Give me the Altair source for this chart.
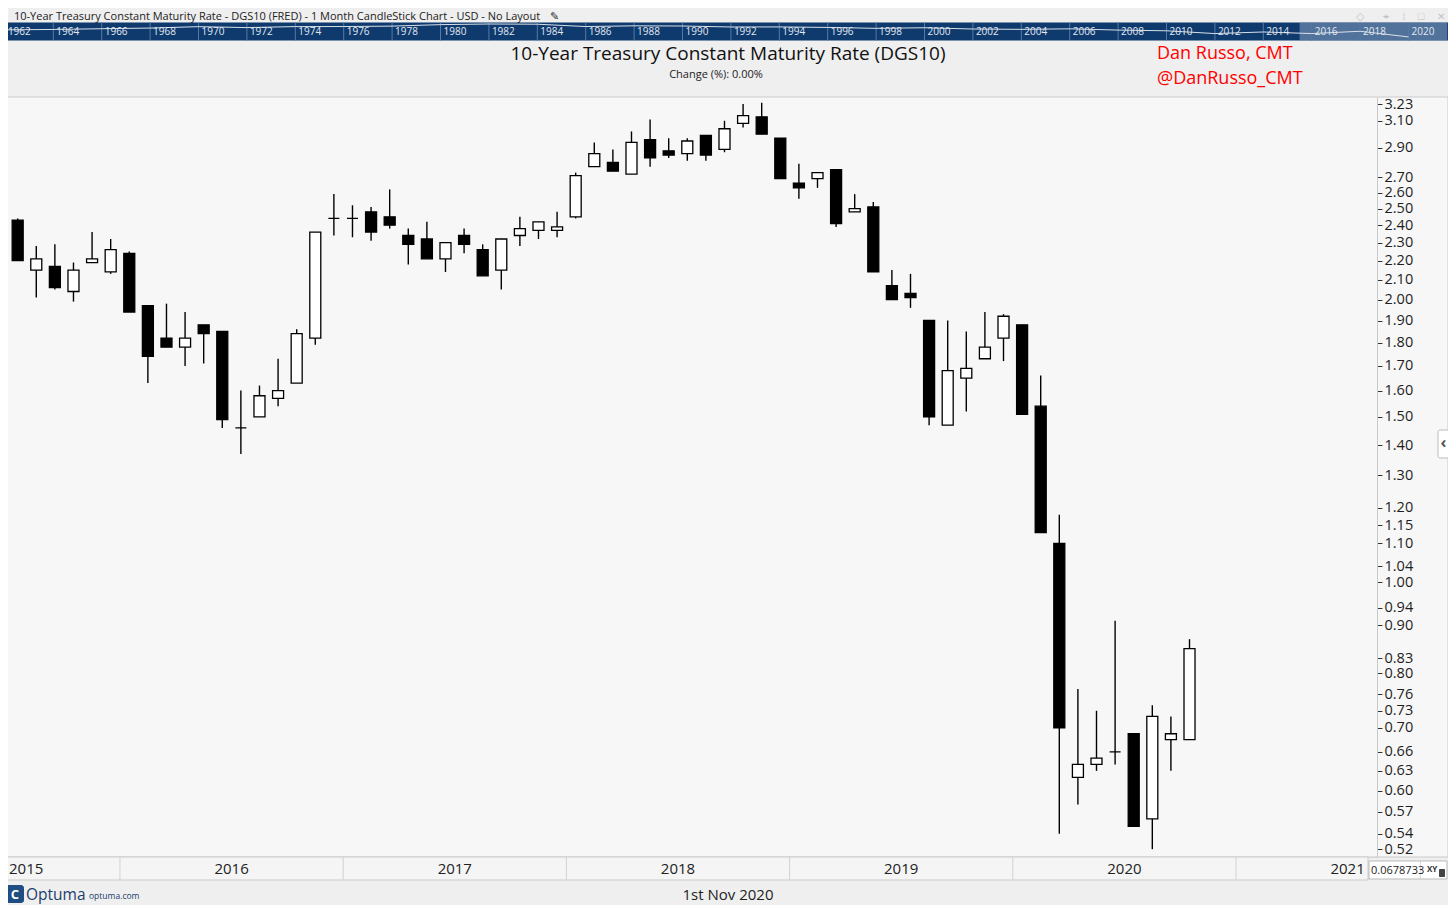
import altair as alt
import pandas as pd

# ---------------- data ----------------
months = [f"{y}-{m:02d}" for y in range(2015, 2021) for m in range(1, 13)
          if (y, m) >= (2015, 7) and (y, m) <= (2020, 10)]

opens = [2.43, 2.15, 2.17, 2.04, 2.19, 2.14,
         2.24, 1.97, 1.82, 1.78, 1.88, 1.85,
         1.46, 1.50, 1.57, 1.63, 1.82, 2.44,
         2.44, 2.48, 2.45, 2.34, 2.32, 2.21,
         2.34, 2.26, 2.15, 2.34, 2.37, 2.37,
         2.45, 2.77, 2.80, 2.72, 2.96, 2.88,
         2.86, 2.99, 2.89, 3.08, 3.13, 2.97,
         2.66, 2.69, 2.75, 2.48, 2.51, 2.07,
         2.03, 1.90, 1.47, 1.65, 1.73, 1.82,
         1.88, 1.54, 1.10, 0.62, 0.64, 0.66,
         0.69, 0.56, 0.68, 0.68]
closes = [2.20, 2.21, 2.06, 2.15, 2.21, 2.26,
          1.94, 1.74, 1.78, 1.82, 1.84, 1.49,
          1.46, 1.58, 1.60, 1.84, 2.36, 2.44,
          2.44, 2.36, 2.40, 2.29, 2.21, 2.30,
          2.29, 2.12, 2.32, 2.38, 2.42, 2.39,
          2.71, 2.86, 2.74, 2.94, 2.83, 2.85,
          2.95, 2.85, 3.04, 3.14, 3.00, 2.69,
          2.63, 2.73, 2.41, 2.50, 2.14, 2.00,
          2.01, 1.50, 1.68, 1.69, 1.78, 1.92,
          1.51, 1.13, 0.70, 0.64, 0.65, 0.66,
          0.55, 0.72, 0.69, 0.85]
highs = [2.44, 2.28, 2.29, 2.19, 2.36, 2.32,
         2.25, 1.97, 1.98, 1.94, 1.88, 1.85,
         1.60, 1.62, 1.73, 1.86, 2.36, 2.59,
         2.52, 2.51, 2.62, 2.38, 2.42, 2.30,
         2.38, 2.29, 2.32, 2.45, 2.42, 2.48,
         2.73, 2.94, 2.89, 3.02, 3.11, 2.97,
         2.97, 2.99, 3.10, 3.23, 3.24, 2.97,
         2.79, 2.73, 2.75, 2.59, 2.54, 2.15,
         2.13, 1.90, 1.90, 1.85, 1.94, 1.93,
         1.88, 1.66, 1.18, 0.77, 0.73, 0.91,
         0.69, 0.74, 0.72, 0.87]
lows = [2.20, 2.01, 2.05, 1.99, 2.19, 2.13,
        1.94, 1.63, 1.78, 1.70, 1.71, 1.46,
        1.37, 1.50, 1.54, 1.63, 1.79, 2.34,
        2.33, 2.31, 2.38, 2.18, 2.21, 2.14,
        2.24, 2.12, 2.05, 2.28, 2.32, 2.33,
        2.44, 2.77, 2.74, 2.72, 2.77, 2.83,
        2.81, 2.81, 2.87, 3.05, 3.00, 2.69,
        2.56, 2.63, 2.39, 2.48, 2.14, 2.00,
        1.96, 1.47, 1.47, 1.52, 1.73, 1.72,
        1.51, 1.13, 0.54, 0.58, 0.63, 0.64,
        0.55, 0.52, 0.63, 0.68]

y_ticks = [3.23, 3.10, 2.90, 2.70, 2.60, 2.50, 2.40, 2.30, 2.20, 2.10, 2.00,
           1.90, 1.80, 1.70, 1.60, 1.50, 1.40, 1.30, 1.20, 1.15, 1.10, 1.04,
           1.00, 0.94, 0.90, 0.83, 0.80, 0.76, 0.73, 0.70, 0.66, 0.63, 0.60,
           0.57, 0.54, 0.52]

year_names = [2015, 2016, 2017, 2018, 2019, 2020, 2021]

# overview strip (1962-2020) in the header
strip_years = list(range(1962, 2021, 2))
strip_yields = [3.9, 4.2, 4.9, 5.6, 7.5, 6.2, 7.6, 7.7, 8.4, 11.4, 13.0, 12.4,
                7.7, 8.9, 8.6, 7.0, 7.1, 6.4, 5.3, 6.0, 4.6, 4.3, 4.8, 3.7,
                3.2, 1.8, 2.5, 1.8, 2.9, 0.9]
strip_view = [2015.5, 2021.6]

top_caption = "10-Year Treasury Constant Maturity Rate - DGS10 (FRED) - 1 Month CandleStick Chart - USD - No Layout"
title_text = "10-Year Treasury Constant Maturity Rate (DGS10)"
sub_text = "Change (%): 0.00%"
author1 = "Dan Russo, CMT"
author2 = "@DanRusso_CMT"
date_text = "1st Nov 2020"
cursor_text = "0.0678733"

# ---------------- layout ----------------
W, H = 1369, 760
PAD = {"left": 0, "top": 89, "right": 71, "bottom": 48}
FONT = "Open Sans"

df = pd.DataFrame({"idx": list(range(len(months))), "month": months,
                   "open": opens, "high": highs, "low": lows, "close": closes})
df["dir"] = ["up" if c >= o else "down" for o, c in zip(opens, closes)]

first_jan = months.index("2016-01")
years_df = pd.DataFrame({"year": [str(y) for y in year_names],
                         "center": [first_jan + 12 * (y - 2016) + 5.5 for y in year_names]})
bounds_df = pd.DataFrame({"b": [first_jan + 12 * k - 0.5 for k in range(6)]})

xs = alt.Scale(domain=[-0.52, 73.08], nice=False, zero=False, padding=0)
ys = alt.Scale(type="log", domain=[0.5101, 3.286], nice=False, padding=0)
yaxis = alt.Axis(orient="right", values=y_ticks, format=".2f", title=None,
                 labelFont=FONT, labelFontSize=14.5, labelColor="#1e1e1e",
                 labelOverlap=False, labelFlush=False, labelPadding=2,
                 tickColor="#333333", tickSize=5, tickWidth=1,
                 domainColor="#c9c9c9", domainWidth=1, grid=False, zindex=2)


def one(txt):
    return pd.DataFrame({"t": [txt]})


def rect(x, x2, y, y2, fill, stroke=None, radius=0, opacity=1):
    kw = dict(fill=fill, opacity=opacity, cornerRadius=radius)
    if stroke:
        kw.update(stroke=stroke, strokeWidth=1)
    return alt.Chart(one("")).mark_rect(**kw).encode(
        x=alt.value(x), x2=alt.value(x2), y=alt.value(y), y2=alt.value(y2))


def label(txt, x, y, size, color="#222222", align="left", weight="normal", font=FONT):
    return alt.Chart(one(txt)).mark_text(
        align=align, baseline="middle", fontSize=size, color=color,
        fontWeight=weight, font=font).encode(
        x=alt.value(x), y=alt.value(y), text="t:N")


# background panels
panel = rect(-1, 1440, 0, H, "#f7f7f7", "#cbcbcb")
band = rect(-1, 1360, H, H + 23, "#f5f5f5", "#cbcbcb")
strip_bg = rect(-2, 1440, -74.5, -56.5, "#0e3a6e")

# candlestick group (shared scales)
wicks = alt.Chart(df).mark_rule(color="#000000", strokeWidth=1.4).encode(
    x=alt.X("idx:Q", scale=xs, axis=None),
    y=alt.Y("low:Q", scale=ys, axis=yaxis),
    y2="high:Q")
bodies = alt.Chart(df).mark_bar(size=11, stroke="#000000", strokeWidth=1.3).encode(
    x=alt.X("idx:Q", scale=xs, axis=None),
    y=alt.Y("open:Q", scale=ys, axis=yaxis),
    y2="close:Q",
    fill=alt.Fill("dir:N", scale=alt.Scale(domain=["up", "down"],
                                           range=["#ffffff", "#000000"]), legend=None))
dividers = alt.Chart(bounds_df).mark_rule(color="#d2d2d2", strokeWidth=1).encode(
    x=alt.X("b:Q", scale=xs, axis=None), y=alt.value(H), y2=alt.value(H + 23))
ylab_main = alt.Chart(years_df.iloc[1:]).mark_text(
    fontSize=15, font=FONT, color="#222222", baseline="middle").encode(
    x=alt.X("center:Q", scale=xs, axis=None), y=alt.value(H + 11.5), text="year:N")
ylab_first = alt.Chart(years_df.iloc[:1]).mark_text(
    fontSize=15, font=FONT, color="#222222", baseline="middle", align="left", dx=1).encode(
    x=alt.value(0), y=alt.value(H + 11.5), text="year:N")
candles = alt.layer(dividers, ylab_main, ylab_first, wicks, bodies)

# overview strip group (own scales)
sx = alt.Scale(domain=[1962, 2022], range=[-3.1, 1448.9], nice=False, zero=False)
sy = alt.Scale(type="log", domain=[0.5, 16], range=[-57.24, -74.0], nice=False)
strip_df = pd.DataFrame({"yr": strip_years, "yld": strip_yields,
                         "lab": [str(y) for y in strip_years]})
hl = alt.Chart(pd.DataFrame({"a": [strip_view[0]], "b": [strip_view[1]]})).mark_rect(
    fill="#7f98b8", opacity=0.6).encode(
    x=alt.X("a:Q", scale=sx, axis=None), x2="b:Q",
    y=alt.value(-74.5), y2=alt.value(-56.5))
sdiv = alt.Chart(strip_df).mark_rule(color="#5a78a2", strokeWidth=1).encode(
    x=alt.X("yr:Q", scale=sx, axis=None), y=alt.value(-74.5), y2=alt.value(-56.5))
slab = alt.Chart(strip_df).mark_text(
    align="left", baseline="middle", dx=3, fontSize=10, color="#e2e8f0",
    font=FONT).encode(
    x=alt.X("yr:Q", scale=sx, axis=None), y=alt.value(-65.5), text="lab:N")
sline = alt.Chart(strip_df).mark_line(color="#d9e0e8", strokeWidth=1).encode(
    x=alt.X("yr:Q", scale=sx, axis=None),
    y=alt.Y("yld:Q", scale=sy, axis=None))
strip = alt.layer(hl, sdiv, sline, slab)

# header / footer texts and widgets
texts = [
    label(top_caption, 6, -80.5, 11),
    label("\u270e", 542, -80.5, 11, "#333333"),
    label("\u25c7", 1352, -80.5, 11, "#c4c4c4", "center"),
    label("\u2316", 1378, -80.5, 11, "#c4c4c4", "center"),
    label("\u205e", 1396, -80.5, 11, "#c4c4c4", "center"),
    label("\u25a1", 1413, -80.5, 11, "#c4c4c4", "center"),
    label("\u2715", 1433, -80.5, 10, "#c4c4c4", "center"),
    label(title_text, 720, -43, 19, "#111111", "center"),
    label(sub_text, 708, -22, 11, "#222222", "center"),
    label(author1, 1149, -43, 18, "#ff0000"),
    label(author2, 1149, -18, 18, "#ff0000"),
    label(date_text, 720, 798, 15, "#222222", "center"),
    label("Optuma", 18, 797.5, 15.5, "#1b3d6d"),
    label("optuma.com", 81, 798.5, 8.5, "#1b3d6d"),
    label("C", 7, 797.5, 13, "#ffffff", "center", weight="bold"),
    label(cursor_text, 1363, 773.5, 11, "#222222"),
    label("XY", 1419, 773, 8, "#333333", weight="bold"),
    label("\u2039", 1435.5, 346, 16, "#555555", "center", weight="bold"),
]
widgets = [
    rect(-2, 16, 788, 806, "#1f4e82", radius=3),
    rect(1361, 1439, 764, 782, "#ffffff", "#b9b9b9"),
    rect(1412, 1412.5, 764, 782, "#b9b9b9"),
    rect(1431, 1437, 772, 780, "#444444", radius=1),
    rect(1430, 1441, 333, 361, "#ffffff", "#bdbdbd", radius=2),
]

chart = alt.layer(
    panel, band, strip_bg, *widgets, candles, strip, *texts
).resolve_scale(
    x="independent", y="independent"
).properties(
    width=W, height=H, padding=PAD,
    autosize=alt.AutoSizeParams(type="none"),
    background="#efefef",
).configure_view(stroke=None).configure(font=FONT)

chart.save("out.html", embed_options={"renderer": "svg", "actions": False})
